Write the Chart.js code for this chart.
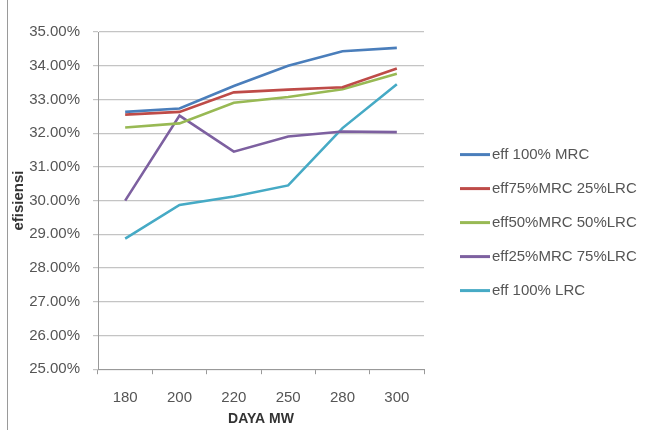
<!DOCTYPE html>
<html lang="id">
<head>
    <meta charset="UTF-8">
    <title>Efisiensi vs Daya</title>
    <script src="https://cdn.jsdelivr.net/npm/chart.js"></script>
    <style>
        body { margin: 0; background: #fff; }
        #wrap { width: 649px; height: 430px; }
    </style>
</head>
<body>
    <div id="wrap"><canvas id="effChart"></canvas></div>

    <script>
        const dayaLabels = ['180', '200', '220', '250', '280', '300'];
        const effMRC100 = [32.63, 32.73, 33.40, 34.00, 34.43, 34.53];
        const eff75MRC25LRC = [32.55, 32.63, 33.21, 33.29, 33.36, 33.92];
        const eff50MRC50LRC = [32.17, 32.29, 32.90, 33.07, 33.30, 33.76];
        const eff25MRC75LRC = [30.00, 32.52, 31.45, 31.90, 32.05, 32.03];
        const effLRC100 = [28.87, 29.87, 30.12, 30.45, 32.15, 33.45];

        const txtFont = 'Liberation Sans';

        // thin grey frame edge on the left, like the source picture
        const frameEdge = {
            id: 'frameEdge',
            beforeDraw(chart) {
                const ctx = chart.ctx;
                ctx.save();
                ctx.strokeStyle = '#9a9a9a';
                ctx.lineWidth = 1;
                ctx.beginPath();
                ctx.moveTo(7.5, 0);
                ctx.lineTo(7.5, chart.height);
                ctx.stroke();
                ctx.restore();
            }
        };

        // the built-in legend gets squeezed to half the free width, so draw
        // the right-hand legend here from the dataset labels/colours
        const sideLegend = {
            id: 'sideLegend',
            afterDraw(chart) {
                const ctx = chart.ctx;
                const sets = chart.data.datasets;
                const rowGap = 34;
                const x0 = chart.chartArea.right + 36;
                const yMid = (chart.chartArea.top + chart.chartArea.bottom) / 2 + 22;
                const y0 = yMid - (sets.length - 1) * rowGap / 2;
                ctx.save();
                ctx.font = '15px ' + txtFont;
                ctx.textBaseline = 'middle';
                ctx.textAlign = 'left';
                sets.forEach((ds, i) => {
                    const y = y0 + i * rowGap;
                    ctx.strokeStyle = ds.borderColor;
                    ctx.lineWidth = 3;
                    ctx.beginPath();
                    ctx.moveTo(x0, y);
                    ctx.lineTo(x0 + 30, y);
                    ctx.stroke();
                    ctx.fillStyle = '#555';
                    ctx.fillText(ds.label, x0 + 32, y);
                });
                ctx.restore();
            }
        };

        function line(label, data, color) {
            return {
                label: label,
                data: data,
                borderColor: color,
                backgroundColor: color,
                borderWidth: 2.6,
                pointRadius: 0,
                tension: 0,
                fill: false
            };
        }

        new Chart(document.getElementById('effChart'), {
            type: 'line',
            data: {
                labels: dayaLabels,
                datasets: [
                    line('eff 100% MRC', effMRC100, '#4a7ebb'),
                    line('eff75%MRC 25%LRC', eff75MRC25LRC, '#be4b48'),
                    line('eff50%MRC 50%LRC', eff50MRC50LRC, '#98b954'),
                    line('eff25%MRC 75%LRC', eff25MRC75LRC, '#7d60a0'),
                    line('eff 100% LRC', effLRC100, '#46aac5')
                ]
            },
            options: {
                responsive: true,
                maintainAspectRatio: false,
                animation: false,
                layout: {
                    padding: { left: 10, right: 225, top: 32, bottom: 2 }
                },
                plugins: {
                    legend: { display: false },
                    tooltip: { enabled: false }
                },
                scales: {
                    x: {
                        offset: true,
                        grid: {
                            offset: true,
                            drawOnChartArea: false,
                            drawTicks: true,
                            tickLength: 5,
                            color: '#999'
                        },
                        border: { color: '#999' },
                        ticks: {
                            color: '#555',
                            padding: 15,
                            font: { family: txtFont, size: 15 }
                        },
                        title: {
                            display: true,
                            text: 'DAYA MW',
                            color: '#333',
                            padding: { top: -11, bottom: 0 },
                            font: { family: txtFont, size: 14, weight: 'bold' }
                        }
                    },
                    y: {
                        min: 25,
                        max: 35,
                        afterFit(scale) { scale.width = 88; },
                        grid: {
                            color: '#c4c4c4',
                            lineWidth: 1.2,
                            tickLength: 5
                        },
                        border: { color: '#999' },
                        ticks: {
                            stepSize: 1,
                            color: '#555',
                            padding: 13,
                            font: { family: txtFont, size: 15 },
                            callback: v => v.toFixed(2) + '%'
                        },
                        title: {
                            display: true,
                            text: 'efisiensi',
                            color: '#333',
                            padding: { top: 0, bottom: 2 },
                            font: { family: txtFont, size: 15, weight: 'bold' }
                        }
                    }
                }
            },
            plugins: [frameEdge, sideLegend]
        });
    </script>
</body>
</html>
